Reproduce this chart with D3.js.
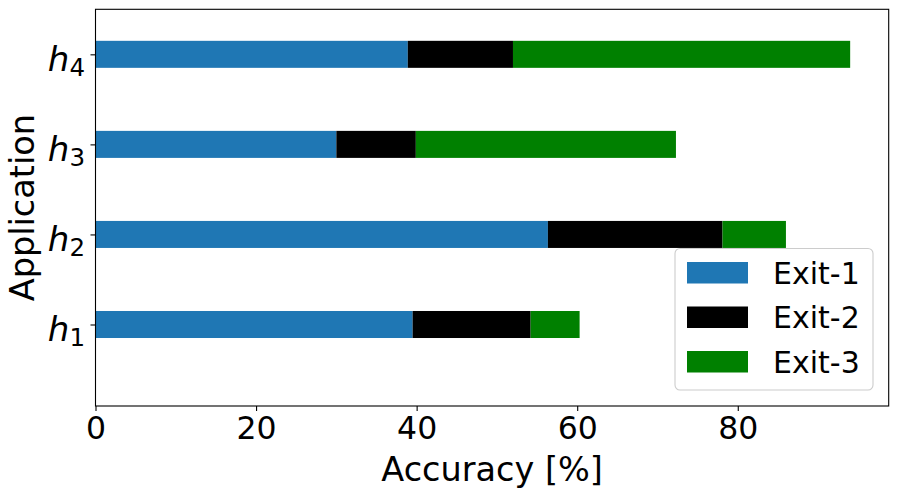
<!DOCTYPE html>
<html><head><meta charset="utf-8">
<script src="https://cdn.jsdelivr.net/npm/d3@7"></script>
<style>
html,body{margin:0;padding:0;background:#fff;}
svg{display:block;font-family:"DejaVu Sans",sans-serif;}
</style></head>
<body><svg id="chart" width="898" height="497"></svg>
<script>
const categories = ["1", "2", "3", "4"]; // subscripts of h
const series = ["Exit-1", "Exit-2", "Exit-3"];
const exit1 = [39.5, 56.35, 30.0, 38.9];
const exit2 = [14.7, 21.75, 9.9, 13.1];
const exit3 = [6.1, 7.9, 32.4, 42.0];
const colors = ["#1f77b4", "#000000", "#008000"];
const xTicks = [0, 20, 40, 60, 80];

const svg = d3.select("#chart");
const L = 95.5, R = 888.7, T = 9.3, B = 406;
const x = d3.scaleLinear().domain([0, 98.8]).range([L, R]);
const y = d3.scaleLinear().domain([-0.905, 3.5]).range([B, T]);
const barH = y(0) - y(0.3);

const rows = categories.map((c, i) => ({c, i, vals: [exit1[i], exit2[i], exit3[i]]}));
const stack = [];
rows.forEach(r => {
  let acc = 0;
  r.vals.forEach((v, s) => { stack.push({i: r.i, s, x0: acc, x1: acc + v}); acc += v; });
});

svg.append("g").selectAll("rect").data(stack).join("rect")
  .attr("x", d => x(d.x0))
  .attr("width", d => x(d.x1) - x(d.x0))
  .attr("y", d => y(d.i) - barH / 2)
  .attr("height", barH)
  .attr("fill", d => colors[d.s]);

// frame
svg.append("rect").attr("x", L).attr("y", T).attr("width", R - L).attr("height", B - T)
  .attr("fill", "none").attr("stroke", "#000").attr("stroke-width", 1.1);

// x axis
const xAxis = svg.append("g").attr("transform", `translate(0,${B})`)
  .call(d3.axisBottom(x).tickValues(xTicks).tickSize(5).tickPadding(6).tickFormat(d3.format("d")));
xAxis.select(".domain").remove();
xAxis.selectAll("line").attr("stroke", "#000").attr("stroke-width", 1.1);
xAxis.selectAll("text").attr("font-size", 31.5).attr("fill", "#000").attr("font-family", "DejaVu Sans");

// y axis
const yAxis = svg.append("g").attr("transform", `translate(${L},0)`)
  .call(d3.axisLeft(y).tickValues(rows.map(r => r.i)).tickSize(5).tickFormat(""));
yAxis.select(".domain").remove();
yAxis.selectAll("line").attr("stroke", "#000").attr("stroke-width", 1.1);
const yl = svg.append("g");
rows.forEach(r => {
  const t = yl.append("text").attr("x", 85).attr("y", y(r.i) + 16.5)
    .attr("text-anchor", "end").attr("fill", "#000");
  t.append("tspan").attr("font-style", "oblique").attr("font-size", 34).text("h");
  t.append("tspan").attr("font-size", 24.5).attr("dy", 5).text(r.c);
});

// axis labels
svg.append("text").attr("x", (L + R) / 2).attr("y", 481).attr("text-anchor", "middle")
  .attr("font-size", 33.5).attr("fill", "#000").text("Accuracy [%]");
svg.append("text").attr("transform", `translate(34,${(T + B) / 2}) rotate(-90)`)
  .attr("text-anchor", "middle").attr("font-size", 33.5).attr("fill", "#000").text("Application");

// legend
const lg = svg.append("g");
lg.append("rect").attr("x", 675).attr("y", 248.5).attr("width", 198).attr("height", 141.5)
  .attr("rx", 5).attr("fill", "#fff").attr("fill-opacity", 0.8)
  .attr("stroke", "#cccccc").attr("stroke-width", 1.1);
series.forEach((s, k) => {
  const yy = 262 + k * 44.5;
  lg.append("rect").attr("x", 687).attr("y", yy).attr("width", 61).attr("height", 21.5).attr("fill", colors[k]);
  lg.append("text").attr("x", 773).attr("y", yy + 21.5).attr("font-size", 30).attr("fill", "#000").text(s);
});
</script></body></html>
